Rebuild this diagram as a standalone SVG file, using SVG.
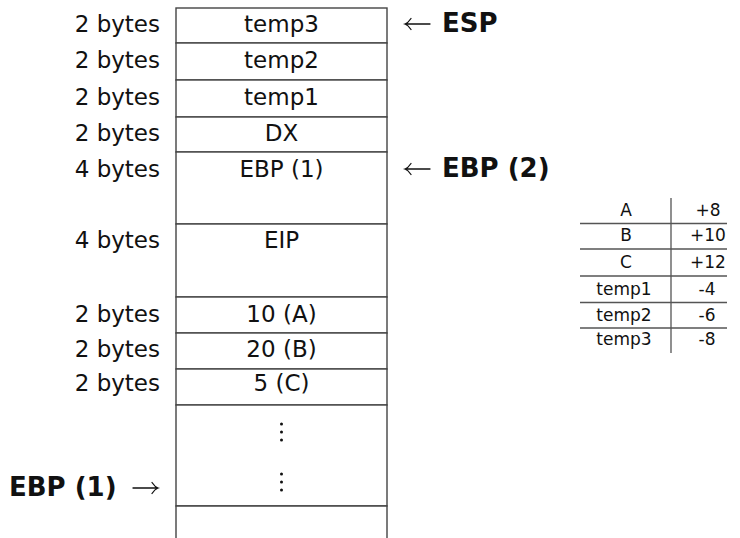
<svg xmlns="http://www.w3.org/2000/svg" width="740" height="538" viewBox="0 0 740 538">
<style>
text{font-family:"DejaVu Sans",Verdana,sans-serif;fill:#111}
.c{font-size:23px;text-anchor:middle}
.l{font-size:23px;text-anchor:end}
.b{font-size:26px;font-weight:bold}
.t{font-size:17px;text-anchor:middle}
.cell{fill:#fff;stroke:#444;stroke-width:1.4}
.tl{stroke:#555;stroke-width:1.3;fill:none}
.arr{stroke:#111;stroke-width:1.3;fill:none;stroke-linecap:round}
</style>
<rect width="740" height="538" fill="#fff"/>
<g id="stack">
<g id="cell-temp3"><rect class="cell" x="176" y="8" width="211" height="35"/><text class="c" x="281.5" y="32">temp3</text><text class="l" x="160" y="32">2 bytes</text></g>
<g id="cell-temp2"><rect class="cell" x="176" y="43" width="211" height="37"/><text class="c" x="281.5" y="68">temp2</text><text class="l" x="160" y="68">2 bytes</text></g>
<g id="cell-temp1"><rect class="cell" x="176" y="80" width="211" height="37"/><text class="c" x="281.5" y="105">temp1</text><text class="l" x="160" y="105">2 bytes</text></g>
<g id="cell-dx"><rect class="cell" x="176" y="117" width="211" height="35"/><text class="c" x="281.5" y="141">DX</text><text class="l" x="160" y="141">2 bytes</text></g>
<g id="cell-ebp1"><rect class="cell" x="176" y="152" width="211" height="72"/><text class="c" x="281.5" y="177">EBP (1)</text><text class="l" x="160" y="177">4 bytes</text></g>
<g id="cell-eip"><rect class="cell" x="176" y="224" width="211" height="73"/><text class="c" x="281.5" y="248">EIP</text><text class="l" x="160" y="248">4 bytes</text></g>
<g id="cell-a"><rect class="cell" x="176" y="297" width="211" height="36"/><text class="c" x="281.5" y="322">10 (A)</text><text class="l" x="160" y="322">2 bytes</text></g>
<g id="cell-b"><rect class="cell" x="176" y="333" width="211" height="36"/><text class="c" x="281.5" y="357">20 (B)</text><text class="l" x="160" y="357">2 bytes</text></g>
<g id="cell-c"><rect class="cell" x="176" y="369" width="211" height="36"/><text class="c" x="281.5" y="391">5 (C)</text><text class="l" x="160" y="391">2 bytes</text></g>
<g id="cell-dots"><rect class="cell" x="176" y="405" width="211" height="101"/>
<g fill="#111"><circle cx="281.5" cy="424" r="1.5"/><circle cx="281.5" cy="432" r="1.5"/><circle cx="281.5" cy="440" r="1.5"/><circle cx="281.5" cy="474" r="1.5"/><circle cx="281.5" cy="482" r="1.5"/><circle cx="281.5" cy="490" r="1.5"/></g></g>
<g id="cell-bottom"><path class="cell" d="M176,545 V506 H387 V545"/></g>
</g>
<g id="pointer-labels">
<text class="b" x="442" y="32">ESP</text>
<text class="b" x="442" y="177">EBP (2)</text>
<text class="b" x="9" y="496">EBP (1)</text>
</g>
<g id="connectors">
<path class="arr" d="M405,24 H430 M411,18.5 Q408,23 405,24 Q408,25 411,29.5"/>
<path class="arr" d="M405,169 H430 M411,163.5 Q408,168 405,169 Q408,170 411,174.5"/>
<path class="arr" d="M133,488 H158 M152,482.5 Q155,487 158,488 Q155,489 152,493.5"/>
</g>
<g id="offset-table">
<path class="tl" d="M671,198 V353 M580,223.5 H727 M580,249 H727 M580,276 H727 M580,302.5 H727 M580,328 H727"/>
<text class="t" x="626" y="216">A</text><text class="t" x="708" y="216">+8</text>
<text class="t" x="626" y="241">B</text><text class="t" x="708" y="241">+10</text>
<text class="t" x="626" y="268">C</text><text class="t" x="708" y="268">+12</text>
<text class="t" x="624" y="295">temp1</text><text class="t" x="707" y="295">-4</text>
<text class="t" x="624" y="321">temp2</text><text class="t" x="707" y="321">-6</text>
<text class="t" x="624" y="345">temp3</text><text class="t" x="707" y="345">-8</text>
</g>
</svg>
